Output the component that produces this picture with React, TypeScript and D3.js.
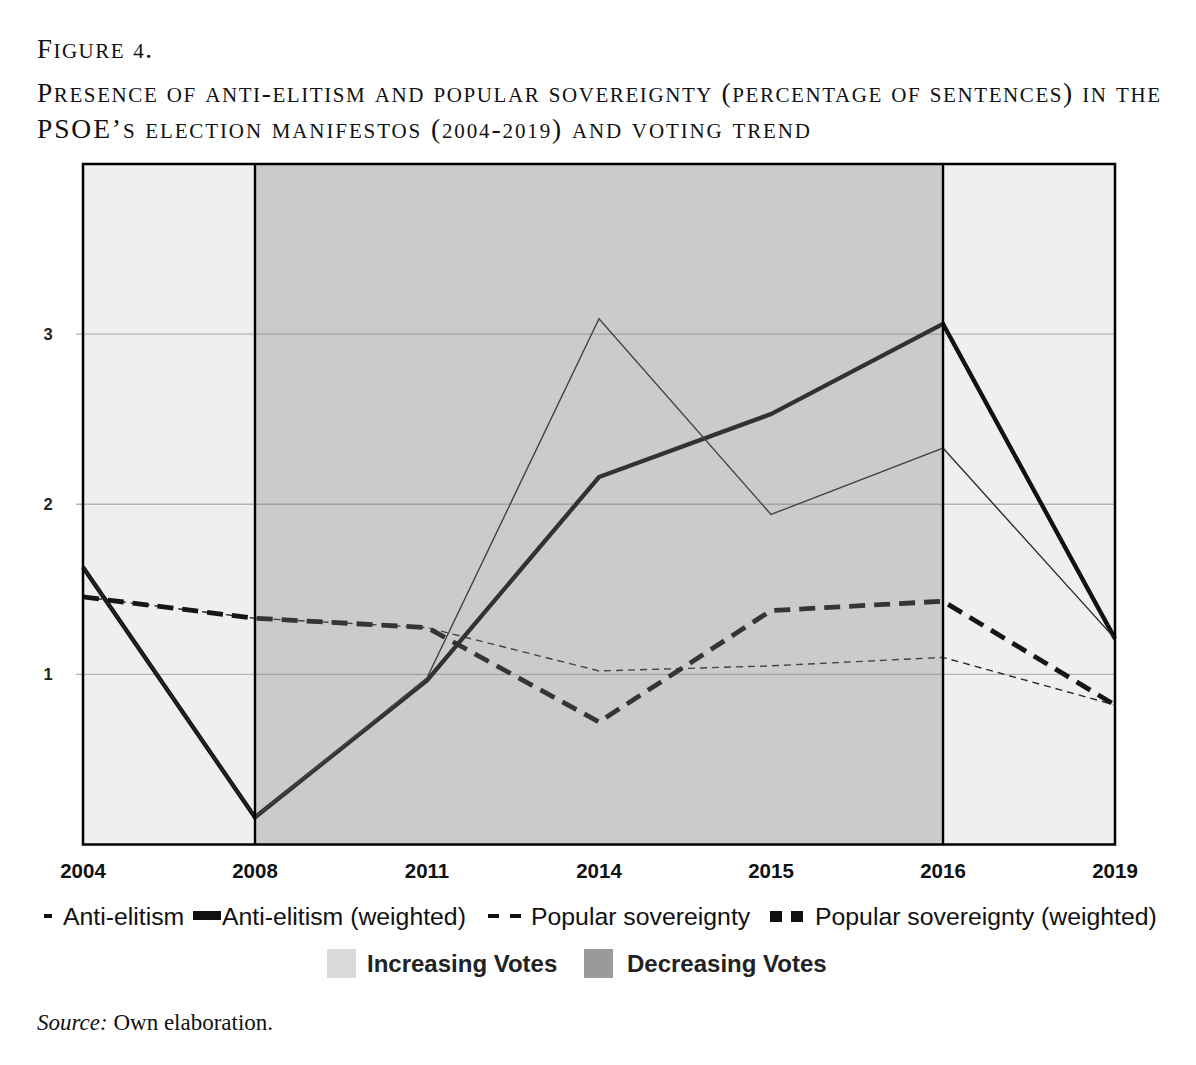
import React from 'react';
import * as d3 from 'd3';

// Election years on the x axis
const years = ['2004', '2008', '2011', '2014', '2015', '2016', '2019'];

// Percentage of sentences
const antiElitism = [1.63, 0.16, 0.98, 3.09, 1.94, 2.33, 1.21];
const antiElitismWeighted = [1.63, 0.16, 0.965, 2.16, 2.53, 3.06, 1.21];
const popularSovereignty = [1.455, 1.33, 1.275, 1.02, 1.05, 1.1, 0.82];
const popularSovereigntyWeighted = [1.455, 1.33, 1.275, 0.72, 1.375, 1.43, 0.82];

const yTicks = [1, 2, 3];

// Voting trend periods (start year, end year, decreasing?)
const periods: [string, string, boolean][] = [
  ['2004', '2008', false],
  ['2008', '2016', true],
  ['2016', '2019', false],
];

const W = 1196;
const H = 1065;
const plot = { left: 83, right: 1115, top: 164, bottom: 844.5 };

const serif = '"Liberation Serif", "DejaVu Serif", serif';
const sans = '"Liberation Sans", Arial, sans-serif';

// crude small caps: lowercase letters and digits drawn as smaller capitals
const smallCaps = (str: string, big: number, small: number) => {
  const runs: { t: string; s: number }[] = [];
  for (const ch of str) {
    const low = (ch >= 'a' && ch <= 'z') || (ch >= '0' && ch <= '9');
    const s = low ? small : big;
    const t = ch.toUpperCase();
    if (runs.length && runs[runs.length - 1].s === s) runs[runs.length - 1].t += t;
    else runs.push({ t, s });
  }
  return runs.map((r, i) => (
    <tspan key={i} fontSize={r.s}>{r.t}</tspan>
  ));
};

const App: React.FC = () => {
  const x = d3.scalePoint<string>().domain(years).range([plot.left, plot.right]);
  const y = d3.scaleLinear().domain([0, 4]).range([plot.bottom, plot.top]);

  const line = d3
    .line<number>()
    .x((_, i) => x(years[i]) as number)
    .y((d) => y(d));

  const series = [
    { values: popularSovereignty, width: 1.4, dash: '7 5', color: '#2a2a2a' },
    { values: popularSovereigntyWeighted, width: 4.8, dash: '16 9', color: '#151515' },
    { values: antiElitismWeighted, width: 4.3, dash: null, color: '#111' },
    { values: antiElitism, width: 1.4, dash: null, color: '#2a2a2a' },
  ];

  return (
    <div style={{ position: 'absolute', left: 0, top: 0 }}>
      <svg width={W} height={H} style={{ display: 'block', background: '#fff' }}>
        {/* Title */}
        <text x={37} y={58} fontFamily={serif} fill="#111" textLength={115} lengthAdjust="spacing">
          {smallCaps('Figure 4.', 27, 21)}
        </text>
        <text x={37} y={102} fontFamily={serif} fill="#111" textLength={1123} lengthAdjust="spacing">
          {smallCaps('Presence of anti-elitism and popular sovereignty (percentage of sentences) in the', 27.5, 21)}
        </text>
        <text x={37} y={138} fontFamily={serif} fill="#111" textLength={773} lengthAdjust="spacing">
          {smallCaps('PSOE’s election manifestos (2004-2019) and voting trend', 27.5, 21)}
        </text>

        {/* Plot background */}
        <rect
          x={plot.left}
          y={plot.top}
          width={plot.right - plot.left}
          height={plot.bottom - plot.top}
          fill="#efefef"
        />

        {/* Gridlines */}
        {yTicks.map((t) => (
          <g key={t}>
            <line x1={plot.left - 7} x2={plot.right} y1={y(t)} y2={y(t)} stroke="#b4b4b4" strokeWidth={1.3} />
            <text
              x={48}
              y={y(t)}
              dy="0.35em"
              textAnchor="middle"
              fontFamily={sans}
              fontWeight="bold"
              fontSize={16.5}
              fill="#222"
            >
              {t}
            </text>
          </g>
        ))}

        {/* Lines */}
        {series.map((s, i) => (
          <path
            key={i}
            d={line(s.values) || ''}
            fill="none"
            stroke={s.color}
            strokeWidth={s.width}
            strokeDasharray={s.dash || undefined}
            strokeLinejoin="miter"
          />
        ))}

        {/* Decreasing votes shading over the lines */}
        {periods
          .filter((p) => p[2])
          .map((p, i) => (
            <rect
              key={i}
              x={x(p[0])}
              y={plot.top}
              width={(x(p[1]) as number) - (x(p[0]) as number)}
              height={plot.bottom - plot.top}
              fill="#7d7d7d"
              opacity={0.315}
            />
          ))}

        {/* Period boundaries */}
        {periods.slice(1).map((p, i) => (
          <line key={i} x1={x(p[0])} x2={x(p[0])} y1={plot.top} y2={plot.bottom} stroke="#000" strokeWidth={2.4} />
        ))}

        {/* Frame */}
        <rect
          x={plot.left}
          y={plot.top}
          width={plot.right - plot.left}
          height={plot.bottom - plot.top}
          fill="none"
          stroke="#000"
          strokeWidth={2.5}
        />

        {/* X axis labels */}
        {years.map((yr) => (
          <text
            key={yr}
            x={x(yr)}
            y={878}
            textAnchor="middle"
            fontFamily={sans}
            fontWeight="bold"
            fontSize={20.5}
            fill="#111"
          >
            {yr}
          </text>
        ))}

        {/* Legend row 1 */}
        <g fontFamily={sans} fontSize={24.8} fill="#111">
          <rect x={44} y={914} width={8} height={4} fill="#111" />
          <text x={63} y={925}>Anti-elitism</text>
          <rect x={193} y={911} width={28} height={9} fill="#111" />
          <text x={222} y={925}>Anti-elitism (weighted)</text>
          <rect x={488} y={914} width={11} height={4} fill="#111" />
          <rect x={510} y={914} width={11} height={4} fill="#111" />
          <text x={531} y={925}>Popular sovereignty</text>
          <rect x={770} y={911} width={12} height={11} fill="#111" />
          <rect x={791} y={911} width={12} height={11} fill="#111" />
          <text x={815} y={925}>Popular sovereignty (weighted)</text>
        </g>

        {/* Legend row 2 */}
        <g fontFamily={sans} fontSize={24} fontWeight="bold" fill="#222">
          <rect x={327} y={949} width={29} height={29} fill="#d9d9d9" />
          <text x={367} y={972}>Increasing Votes</text>
          <rect x={584} y={949} width={29} height={29} fill="#9a9a9a" />
          <text x={627} y={972}>Decreasing Votes</text>
        </g>

        {/* Source */}
        <text x={37} y={1030} fontFamily={serif} fontSize={23} fill="#111">
          <tspan fontStyle="italic">Source:</tspan> Own elaboration.
        </text>
      </svg>
    </div>
  );
};

export default App;
